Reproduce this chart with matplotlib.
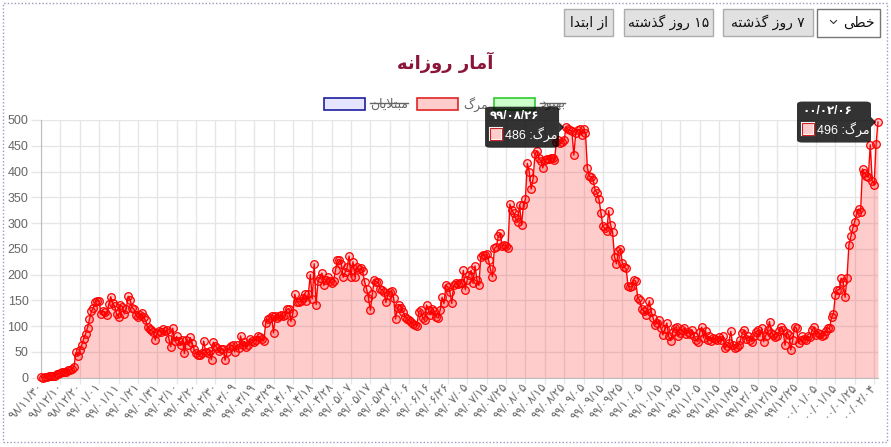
import numpy as np
import matplotlib.pyplot as plt
from matplotlib.patches import Rectangle, FancyBboxPatch, Polygon
from matplotlib.lines import Line2D

plt.rcParams['font.family'] = ['Liberation Sans', 'DejaVu Sans']

W, H = 891, 447

# daily deaths, one value per day from 98/11/30
deaths_wave1 = [2, 0, 2, 1, 3, 4, 3, 4, 7, 8, 9,
                11, 12, 11, 15, 15, 17, 21,
                49, 43, 54, 63, 75, 85, 97, 113, 129, 135, 147, 149, 149,
                123, 129, 127, 122, 143, 157, 144, 139, 123, 117, 141,
                138, 124, 134, 158, 151, 136, 133, 121, 117, 122, 125, 117, 111, 98, 94, 92, 89, 73, 87, 91,
                88, 94, 90, 93, 76, 60, 96, 71, 80, 71,
                63, 74, 47, 74, 63, 78, 68, 55, 48, 45, 45, 48, 71, 50, 48, 51, 35, 69, 62, 58,
                51, 56, 56, 34, 50, 57, 62, 63, 50, 63, 57]
deaths_summer = [81, 64, 70, 59, 63, 75, 72, 70, 74, 81, 78, 75, 71, 107, 113, 115, 120, 87, 120, 116,
                 119, 121, 119, 121, 133, 134, 109, 125, 162, 147,
                 147, 148, 154, 163, 148, 163, 200, 153, 221, 142, 188, 194, 203, 179, 189, 195, 188, 183, 188, 209,
                 229, 229, 221, 195,
                 205, 214, 236, 195, 225, 196, 215, 210, 212, 207, 186,
                 173, 155, 131, 163, 189, 186, 186, 173, 170, 167, 146, 161, 167, 169, 155, 114, 135, 142, 135, 128,
                 118, 114, 111, 108, 104, 103, 101,
                 128, 131, 116, 111, 141, 131, 122, 134, 129, 118, 116, 131, 156, 144, 179, 176, 167, 144, 179, 183,
                 182]
deaths_autumn = [183, 184, 208, 171, 190, 200, 208, 183, 217, 190, 179, 235, 238, 238, 240, 228, 210, 196, 251, 254,
                 274, 280, 256, 257, 255, 251,
                 337, 325, 319, 309, 303, 335, 296, 335, 346, 416, 400, 366, 386, 435, 440, 426, 420, 407, 423, 424,
                 425, 426, 426, 422, 457, 462, 455, 458, 461, 486,
                 482, 480, 479, 432, 474, 481, 482, 471, 482, 475, 407, 391]
deaths_winter = [390, 384, 364, 359, 346, 320, 294, 290, 285, 324, 296, 283, 235, 221, 245, 250, 223, 214, 212, 178,
                 176, 177, 190, 187, 154, 151, 133, 130, 122, 133, 149, 128, 115, 103, 106, 111, 96, 83, 95, 106,
                 80, 72, 88, 96, 99, 81, 86, 93, 96, 85, 88, 85, 93, 80, 73, 70, 88, 98, 77, 91,
                 73, 80, 72, 77, 75, 74, 78, 73, 81, 57, 62, 67, 90, 64, 57, 60,
                 63, 73, 86, 92, 76, 80, 73, 70, 80, 89, 92, 80, 96, 70, 81, 92, 109, 87, 83, 78,
                 81, 91, 99, 92, 63, 87, 83, 54, 74, 99, 96, 67, 73, 80, 76, 73, 80, 78, 92, 98,
                 83, 87, 84, 80, 83, 91, 96, 96, 117, 124, 160, 170, 171, 193, 186, 156, 193, 258, 274, 290,
                 303, 319, 327, 322, 405, 397, 391, 389, 452, 382, 374, 453, 496]
deaths = deaths_wave1 + deaths_summer + deaths_autumn + deaths_winter

tick_labels = ['98/11/30', '98/12/10', '98/12/20', '99/01/01', '99/01/11', '99/01/21', '99/01/31',
               '99/02/10', '99/02/20', '99/02/30', '99/03/09', '99/03/19', '99/03/29', '99/04/08',
               '99/04/18', '99/04/28', '99/05/07', '99/05/17', '99/05/27', '99/06/06', '99/06/16',
               '99/06/26', '99/07/05', '99/07/15', '99/07/25', '99/08/05', '99/08/15', '99/08/25',
               '99/09/05', '99/09/15', '99/09/25', '99/10/05', '99/10/15', '99/10/25', '99/11/05',
               '99/11/15', '99/11/25', '99/12/05', '99/12/15', '99/12/25', '00/01/05', '00/01/15',
               '00/01/25', '00/02/04']
tooltips = [(271, '99/08/26'), (432, '00/02/06')]

title = 'آمار روزانه'
legend_items = [('مبتلایان', '#e5e5ff', '#1e1ea0', True),
                ('مرگ', '#ffcccc', '#e02424', False),
                ('بهبود', '#ccffcc', '#2ecc2e', True)]
buttons = ['از ابتدا', '۱۵ روز گذشته', '۷ روز گذشته']
select_text = 'خطی'

# --- minimal persian shaping (matplotlib has no complex text layout)
FORMS = {
    'ا': ('\ufe8d', '\ufe8e', None, None), 'آ': ('\ufe81', '\ufe82', None, None),
    'ب': ('\ufe8f', '\ufe90', '\ufe91', '\ufe92'), 'ت': ('\ufe95', '\ufe96', '\ufe97', '\ufe98'),
    'خ': ('\ufea5', '\ufea6', '\ufea7', '\ufea8'), 'د': ('\ufea9', '\ufeaa', None, None),
    'ذ': ('\ufeab', '\ufeac', None, None), 'ر': ('\ufead', '\ufeae', None, None),
    'ز': ('\ufeaf', '\ufeb0', None, None), 'ش': ('\ufeb5', '\ufeb6', '\ufeb7', '\ufeb8'),
    'ط': ('\ufec1', '\ufec2', '\ufec3', '\ufec4'), 'گ': ('\ufb92', '\ufb93', '\ufb94', '\ufb95'),
    'ل': ('\ufedd', '\ufede', '\ufedf', '\ufee0'), 'م': ('\ufee1', '\ufee2', '\ufee3', '\ufee4'),
    'ن': ('\ufee5', '\ufee6', '\ufee7', '\ufee8'), 'ه': ('\ufee9', '\ufeea', '\ufeeb', '\ufeec'),
    'و': ('\ufeed', '\ufeee', None, None), 'ی': ('\ufbfc', '\ufbfd', '\ufbfe', '\ufbff'),
}
RIGHT_ONLY = set('اآدذرزو')
DIGITS = set('0123456789۰۱۲۳۴۵۶۷۸۹')
FA_DIGITS = str.maketrans('0123456789', '۰۱۲۳۴۵۶۷۸۹')


def fa(text):
    glyphs = []
    i = 0
    while i < len(text):
        c = text[i]
        prev = text[i - 1] if i > 0 else ''
        jp = prev in FORMS and prev not in RIGHT_ONLY
        if c == 'ل' and text[i + 1:i + 2] == 'ا':
            glyphs.append('\ufefc' if jp else '\ufefb')
            i += 2
            continue
        if c in FORMS:
            nxt = text[i + 1] if i + 1 < len(text) else ''
            jn = c not in RIGHT_ONLY and nxt in FORMS
            iso, fin, ini, med = FORMS[c]
            glyphs.append(med if jp and jn else fin if jp else ini if jn else iso)
        else:
            glyphs.append(c)
        i += 1
    # visual order: digit runs stay, the rest is mirrored
    runs = []
    for g in glyphs:
        d = g in DIGITS
        if runs and runs[-1][0] == d:
            runs[-1][1].append(g)
        else:
            runs.append((d, [g]))
    out = ''
    for d, r in reversed(runs):
        out += ''.join(r if d else reversed(r))
    return out


def fx(x):
    return x / W


def fy(y):
    return 1 - y / H


def rect(x0, y0, x1, y1, **kw):
    # screen pixels, origin top-left
    p = Rectangle((fx(x0), fy(y1)), (x1 - x0) / W, (y1 - y0) / H, transform=fig.transFigure, **kw)
    fig.add_artist(p)
    return p


fig = plt.figure(figsize=(W / 100, H / 100), dpi=100)
ax = fig.add_axes([fx(41), fy(377.7), (878 - 41) / W, (377.7 - 120) / H])

x = np.arange(len(deaths))
ax.fill_between(x, deaths, color=(1, 0, 0, 0.2), lw=0, zorder=2)
ax.plot(x, deaths, color='#ff0000', lw=1, marker='o', ms=5.5, mfc=(1, 0, 0, 0.2),
        mec='#ff0000', mew=0.9, clip_on=False, zorder=3)
ax.set_xlim(0, len(deaths) - 1)
ax.set_ylim(0, 500)
ax.set_yticks(range(0, 501, 50))
ax.set_xticks(np.arange(0, len(deaths), 10))
ax.set_xticklabels([t.translate(FA_DIGITS) for t in tick_labels], rotation=48,
                   ha='right', va='center', rotation_mode='anchor')
ax.grid(color='#e6e6e6', lw=1)
ax.set_axisbelow(True)
for s in ['top', 'right']:
    ax.spines[s].set_visible(False)
for s in ['left', 'bottom']:
    ax.spines[s].set_color('#bdbdbd')
ax.tick_params(axis='y', length=7, width=1, color='#e6e6e6', labelcolor='#666666', labelsize=9, pad=2)
ax.tick_params(axis='x', length=4, width=1, color='#e6e6e6', labelcolor='#666666', labelsize=8.5, pad=1.5)

# outer dotted frame
rect(3, 3, 887, 442, fill=False, ec='#9a9ac0', lw=1, ls=(0, (1, 1.5)))

# buttons
btn_boxes = [(564, 613), (624, 713), (723, 813)]
for (x0, x1), label in zip(btn_boxes, buttons):
    rect(x0, 9, x1, 36, fc='#e1e1e1', ec='#adadad', lw=1)
    fig.text(fx((x0 + x1) / 2), fy(22.5), fa(label), ha='center', va='center', fontsize=10,
             color='#111111', family='DejaVu Sans')
rect(817, 9, 880, 36.5, fc='white', ec='#767676', lw=1)
fig.text(fx(875), fy(23), fa(select_text), ha='right', va='center', fontsize=10, color='#111111',
         family='DejaVu Sans')
fig.add_artist(Line2D([fx(830.5), fx(833.5), fx(836.5)], [fy(20.5), fy(23.5), fy(20.5)],
                      transform=fig.transFigure, color='#333333', lw=0.8))

# title
fig.text(fx(445), fy(62), fa(title), ha='center', va='center', fontsize=13, weight='bold',
         color='#8b1538', family='DejaVu Sans')

# legend (rtl order, box to the left of its label)
renderer = fig.canvas.get_renderer()
for bx, (label, fc, ec, hidden) in zip([324, 417, 494], legend_items):
    rect(bx, 98, bx + 41, 110, fc=fc, ec=ec, lw=1.2)
    t = fig.text(fx(bx + 46), fy(104), fa(label), ha='left', va='center', fontsize=9,
                 color='#666666', family='DejaVu Sans')
    if hidden:
        bb = t.get_window_extent(renderer)
        fig.add_artist(Line2D([bb.x0 / W, bb.x1 / W], [fy(103), fy(103)], transform=fig.transFigure,
                              color='#666666', lw=1))

# tooltips
fig.canvas.draw()
for idx, label in tooltips:
    px, py = ax.transData.transform((idx, deaths[idx]))
    sx, sy = px, H - py
    w, h = 74, 41
    right = sx - 7
    left = right - w
    box = FancyBboxPatch((fx(left), fy(sy + h / 2)), w / W, h / H, boxstyle='round,pad=0,rounding_size=0.006',
                         transform=fig.transFigure, fc=(0, 0, 0, 0.8), ec='none', zorder=10)
    fig.add_artist(box)
    fig.add_artist(Polygon([(fx(right), fy(sy - 5)), (fx(right + 5), fy(sy)), (fx(right), fy(sy + 5))],
                           closed=True, transform=fig.transFigure, fc=(0, 0, 0, 0.8), ec='none', zorder=10))
    fig.text(fx(left + 5), fy(sy - h / 2 + 9), label.translate(FA_DIGITS), ha='left', va='center',
             fontsize=8.5, weight='bold', color='white', zorder=11)
    rect(left + 5, sy + 1, left + 17, sy + 13, fc='#ffcccc', ec='white', lw=1.5, zorder=11)
    rect(left + 5, sy + 1, left + 17, sy + 13, fill=False, ec='#cc2222', lw=0.8, zorder=12)
    fig.text(fx(left + 20), fy(sy + 7), fa('مرگ: ' + str(deaths[idx])), ha='left', va='center',
             fontsize=9, color='white', zorder=11)

fig.savefig('out.png', dpi=100)
